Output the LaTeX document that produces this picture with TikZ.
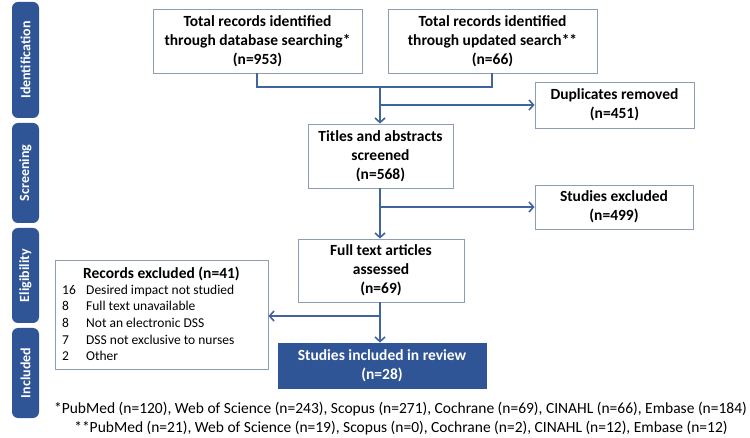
\documentclass[tikz,border=0pt]{standalone}
\usepackage{fontspec}
\setmainfont{Carlito}
\usetikzlibrary{arrows.meta}
\definecolor{navy}{HTML}{2F5597}
\definecolor{lineblue}{HTML}{3F64A0}
\definecolor{boxgray}{HTML}{8C9DB5}
\begin{document}
\begin{tikzpicture}[x=1pt,y=-1pt,
  phase/.style={fill=navy, rounded corners=6pt, minimum height=27pt, text=white,
    font=\bfseries\fontsize{14}{16}\selectfont, rotate=90, inner sep=0pt},
  box/.style={draw=boxgray, line width=0.9pt, fill=white, align=center,
    font=\bfseries\fontsize{15.5}{19}\selectfont, inner sep=0pt},
  conn/.style={draw=lineblue, line width=1.8pt},
  arr/.style={conn, -{Straight Barb[length=4.5pt,width=10pt,line width=1.6pt]}},
  note/.style={font=\fontsize{15.5}{18}\selectfont, inner sep=0pt}
]
\useasboundingbox (0,0) rectangle (750,438);

% phase bars
\node[phase, minimum width=116pt] (pid) at (25.5,60) {Identification};
\node[phase, minimum width=100pt] (psc) at (25.5,173) {Screening};
\node[phase, minimum width=95pt] (pel) at (25.5,275.5) {Eligibility};
\node[phase, minimum width=90pt] (pin) at (25.5,373) {Included};

% boxes
\node[box, minimum width=209pt, minimum height=64pt] (b1) at (257.5,41)
  {Total records identified\\through database searching*\\(n=953)};
\node[box, minimum width=209pt, minimum height=64pt] (b2) at (492.5,41)
  {Total records identified\\through updated search**\\(n=66)};
\node[box, minimum width=159pt, minimum height=46pt] (dup) at (614.5,105)
  {Duplicates removed\\(n=451)};
\node[box, minimum width=145pt, minimum height=64pt] (tit) at (380.5,156)
  {Titles and abstracts\\screened\\(n=568)};
\node[box, minimum width=158pt, minimum height=44pt] (exc) at (614,207)
  {Studies excluded\\(n=499)};
\node[box, minimum width=166pt, minimum height=63pt] (full) at (381,270.5)
  {Full text articles\\assessed\\(n=69)};
\node[box, minimum width=213pt, minimum height=109pt] (rec) at (161.5,314.5) {};
\node[box, fill=navy, draw=navy, text=white, minimum width=208pt, minimum height=45pt] (inc) at (382,365.5)
  {Studies included in review\\(n=28)};

% records excluded contents
\node[font=\bfseries\fontsize{15.5}{18}\selectfont, inner sep=0pt] (rect) at (161.5,274)
  {Records excluded (n=41)};
\node[anchor=north west, inner sep=0pt, font=\fontsize{13.5}{16.6}\selectfont] (recl) at (62,282.5)
  {\begin{tabular}{@{}p{18pt}@{\hspace{6pt}}l@{}}
   16 & Desired impact not studied\\
   8 & Full text unavailable\\
   8 & Not an electronic DSS\\
   7 & DSS not exclusive to nurses\\
   2 & Other
   \end{tabular}};

% connectors
\coordinate (m1) at (380,87);
\coordinate (m2) at (380,105);
\coordinate (m3) at (380,207);
\coordinate (m4) at (380,316);
\draw[conn] (b1.south -| 257,0) |- (m1) -| (b2.south -| 492,0);
\draw[arr] (m1) -- (m1 |- tit.north);
\draw[arr] (m2) -- (dup.west);
\draw[arr] (m1 |- tit.south) -- (m1 |- full.north);
\draw[arr] (m3) -- (exc.west);
\draw[arr] (m1 |- full.south) -- (m1 |- inc.north);
\draw[arr] (m4) -- (rec.east |- m4);

% footnotes
\node[note] (fn1) at (400.5,409)
  {*PubMed (n=120), Web of Science (n=243), Scopus (n=271), Cochrane (n=69), CINAHL (n=66), Embase (n=184)};
\node[note] (fn2) at (401,428)
  {**PubMed (n=21), Web of Science (n=19), Scopus (n=0), Cochrane (n=2), CINAHL (n=12), Embase (n=12)};
\end{tikzpicture}
\end{document}
